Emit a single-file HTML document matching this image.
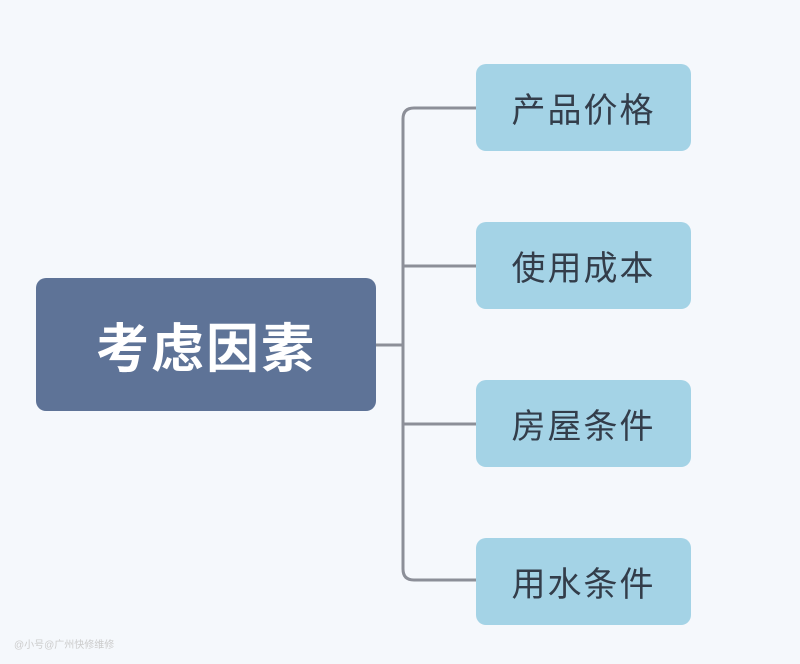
<!DOCTYPE html>
<html><head><meta charset="utf-8"><style>
body{margin:0;width:800px;height:664px;background:#f5f8fc;position:relative;overflow:hidden;font-family:"Liberation Sans","Noto Sans CJK SC",sans-serif}
.b{position:absolute;left:476px;width:215px;height:87px;background:#a4d3e6;border-radius:10px;color:#333d4a;font-size:34px;display:flex;align-items:center;justify-content:center;letter-spacing:2px}
.m{position:absolute;left:36px;top:278px;width:340px;height:133px;background:#5e7397;border-radius:10px;color:#fff;font-size:53px;font-weight:bold;display:flex;align-items:center;justify-content:center;letter-spacing:2px}
.w{position:absolute;left:14px;top:636px;font-size:10px;color:#ccc}
</style></head><body>
<svg width="800" height="664" style="position:absolute;left:0;top:0">
<g fill="none" stroke="#8c8f98" stroke-width="3">
<path d="M476 108 H414 Q403 108 403 119 V569 Q403 580 414 580 H476"/>
<path d="M403 266 H476 M403 424 H476 M376 345 H403"/>
</g></svg>
<div class="m">考虑因素</div>
<div class="b" style="top:64px">产品价格</div>
<div class="b" style="top:222px">使用成本</div>
<div class="b" style="top:380px">房屋条件</div>
<div class="b" style="top:538px">用水条件</div>
<div class="w">@小号@广州快修维修</div>
</body></html>
